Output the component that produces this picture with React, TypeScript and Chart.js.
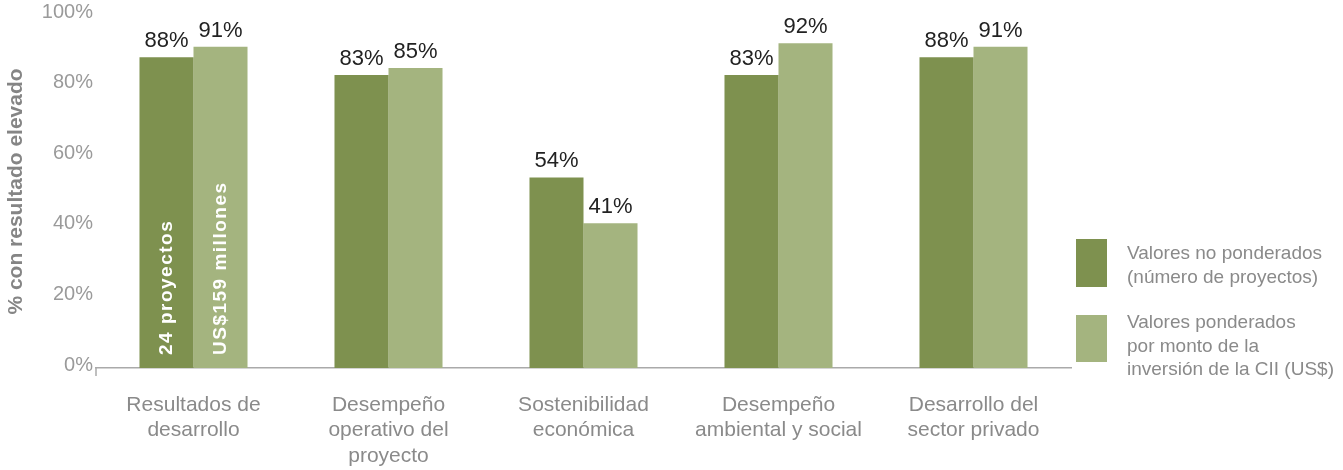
import React, { useEffect, useRef } from "react";
import { Chart, registerables } from "chart.js";

Chart.register(...registerables);

const categories: string[][] = [
  ["Resultados de", "desarrollo"],
  ["Desempeño", "operativo del", "proyecto"],
  ["Sostenibilidad", "económica"],
  ["Desempeño", "ambiental y social"],
  ["Desarrollo del", "sector privado"],
];
const unweighted: number[] = [88, 83, 54, 83, 88];
const weighted: number[] = [91, 85, 41, 92, 91];
const seriesNames: string[][] = [
  ["Valores no ponderados", "(número de proyectos)"],
  ["Valores ponderados", "por monto de la", "inversión de la CII (US$)"],
];
const barNotes: string[] = ["24 proyectos", "US$159 millones"];
const yTicks: number[] = [0, 20, 40, 60, 80, 100];
const yTitle = "% con resultado elevado";

const DARK = "#7e914f";
const LIGHT = "#a4b47f";
const FONT = "'Liberation Sans', Arial, Helvetica, sans-serif";

const labelPlugin = {
  id: "barLabels",
  afterDatasetsDraw(chart: any) {
    const ctx = chart.ctx;
    ctx.save();
    chart.data.datasets.forEach((ds: any, di: number) => {
      const meta = chart.getDatasetMeta(di);
      meta.data.forEach((bar: any, i: number) => {
        const v = ds.data[i];
        ctx.fillStyle = "#222";
        ctx.font = `22px ${FONT}`;
        ctx.textAlign = "center";
        ctx.textBaseline = "alphabetic";
        ctx.fillText(`${v}%`, bar.x, bar.y - 10);
        if (i === 0 && barNotes[di]) {
          ctx.save();
          ctx.translate(bar.x, bar.base - 13);
          ctx.rotate(-Math.PI / 2);
          ctx.fillStyle = "#ffffff";
          ctx.font = `bold 19px ${FONT}`;
          try { (ctx as any).letterSpacing = "1.5px"; } catch (e) {}
          ctx.textAlign = "left";
          ctx.textBaseline = "middle";
          ctx.fillText(barNotes[di], 0, 0);
          ctx.restore();
        }
      });
    });
    const a = chart.chartArea;
    ctx.strokeStyle = "#aaaaaa";
    ctx.lineWidth = 1.5;
    ctx.beginPath();
    ctx.moveTo(a.left, a.bottom);
    ctx.lineTo(a.left, a.bottom + 8);
    ctx.stroke();
    ctx.restore();
  },
};

export default function App() {
  const ref = useRef<HTMLCanvasElement>(null);
  useEffect(() => {
    if (!ref.current) return;
    Chart.defaults.font.family = FONT;
    const chart = new Chart(ref.current, {
      type: "bar",
      data: {
        labels: categories,
        datasets: [
          { label: seriesNames[0].join(" "), data: unweighted, backgroundColor: DARK, categoryPercentage: 0.554, barPercentage: 1 },
          { label: seriesNames[1].join(" "), data: weighted, backgroundColor: LIGHT, categoryPercentage: 0.554, barPercentage: 1 },
        ],
      },
      options: {
        responsive: false,
        animation: false,
        layout: { padding: { left: 0, top: 15, right: 272, bottom: 0 } },
        plugins: { legend: { display: false }, tooltip: { enabled: false } },
        scales: {
          x: {
            grid: { display: false, drawTicks: false },
            border: { display: true, color: "#aaaaaa", width: 1.5 },
            ticks: { color: "#8a8a8a", font: { size: 21, lineHeight: 1.22 }, padding: 24, maxRotation: 0, autoSkip: false },
            afterFit: (s: any) => { s.height = 102; },
          },
          y: {
            min: 0,
            max: 100,
            grid: { display: false, drawTicks: false },
            border: { display: false },
            ticks: { stepSize: 20, color: "#9a9a9a", font: { size: 20 }, padding: 3, labelOffset: -3, callback: (v: any) => (yTicks.includes(v) ? `${v}%` : "") },
            title: { display: true, text: yTitle, color: "#858585", font: { size: 21, weight: "bold" }, padding: { top: 4, bottom: 0 } },
            afterFit: (s: any) => { s.width = 96; },
          },
        },
      },
      plugins: [labelPlugin],
    });
    return () => chart.destroy();
  }, []);

  const legendText: React.CSSProperties = {
    position: "absolute",
    left: 1127,
    fontFamily: FONT,
    fontSize: 19,
    lineHeight: "24px",
    color: "#8a8a8a",
    whiteSpace: "nowrap",
  };
  return (
    <div style={{ position: "absolute", left: 0, top: 0, width: 1343, height: 470, background: "#fff" }}>
      <canvas ref={ref} width={1343} height={470} style={{ display: "block" }} />
      <div style={{ position: "absolute", left: 1076, top: 239, width: 31, height: 48, background: DARK }} />
      <div style={{ position: "absolute", left: 1076, top: 315, width: 31, height: 47, background: LIGHT }} />
      <div style={{ ...legendText, top: 241 }}>
        {seriesNames[0].map((l, i) => (<div key={i}>{l}</div>))}
      </div>
      <div style={{ ...legendText, top: 310, lineHeight: "23.5px" }}>
        {seriesNames[1].map((l, i) => (<div key={i}>{l}</div>))}
      </div>
    </div>
  );
}
